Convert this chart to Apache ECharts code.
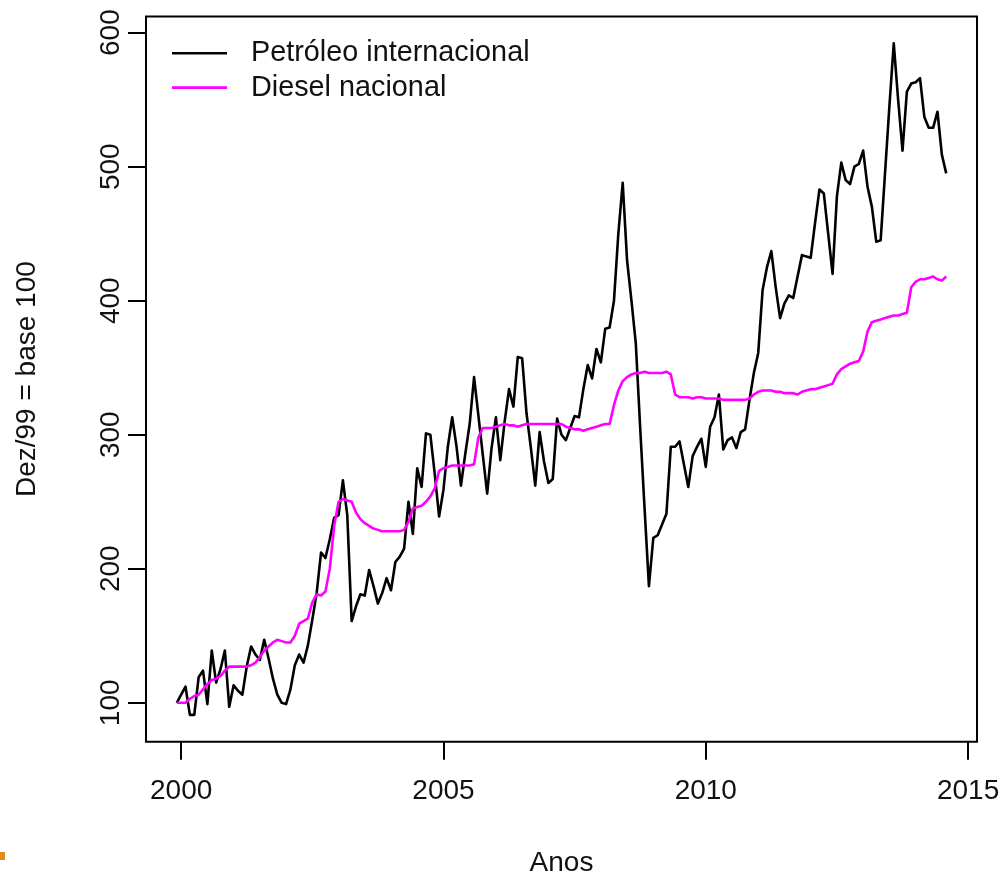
<!DOCTYPE html>
<html>
<head>
<meta charset="utf-8">
<title>Petróleo internacional x Diesel nacional</title>
<script src="https://cdn.jsdelivr.net/npm/echarts@6/dist/echarts.min.js"></script>
<style>
  html, body { margin: 0; padding: 0; background: #ffffff; }
  #chart { width: 1004px; height: 877px; }
</style>
</head>
<body>
<div id="chart"></div>
<script>
// Monthly index series, Dec/1999 = 100
const startYear = 1999;
const startMonth = 12;

const petroleoInternacional = [
  100, 106, 112, 91, 91, 119, 124, 99, 139, 115, 125, 139,
  97, 113, 109, 106, 127, 142, 136, 132, 147, 133, 118, 106,
  100, 99, 110, 128, 136, 130, 143, 162, 182, 212, 208, 222,
  238, 240, 266, 240, 161, 172, 181, 180, 199, 187, 174, 182,
  193, 184, 205, 209, 215, 250, 226, 275, 261, 301, 300, 271,
  239, 259, 291, 313, 291, 262, 286, 308, 343, 314, 285, 256,
  290, 313, 281, 310, 334, 321, 358, 357, 316, 290, 262, 302,
  280, 264, 267, 312, 300, 296, 305, 314, 313, 334, 352, 342,
  364, 354, 379, 380, 400, 450, 488, 430, 400, 368, 305, 245,
  187, 223, 225, 233, 241, 291, 291, 295, 278, 261, 284, 291,
  297, 276, 306, 313, 330, 289, 296, 298, 290, 302, 304, 326,
  346, 361, 408, 425, 437, 410, 387, 398, 404, 402, 418, 434,
  433, 432, 458, 483, 480, 450, 420, 478, 503, 490, 487, 500,
  502, 512, 485, 470, 444, 445, 495, 545, 592, 550, 512, 556,
  562, 563, 566, 537, 529, 529, 541, 509, 495
];

const dieselNacional = [
  100, 100, 100, 103, 105, 106, 110, 114, 117, 118, 120, 124,
  127, 127, 127, 127, 127, 128, 130, 134, 139, 142, 145, 147,
  146, 145, 145, 150, 159, 161, 163, 175, 181, 180, 183, 200,
  232, 250, 252, 251, 250, 242, 237, 234, 232, 230, 229, 228,
  228, 228, 228, 228, 229, 235, 245, 246, 247, 250, 254, 260,
  273, 275, 276, 277, 277, 277, 277, 277, 278, 298, 305, 305,
  305, 306, 307, 308, 307, 307, 306, 307, 308, 308, 308, 308,
  308, 308, 308, 308, 308, 306, 305, 304, 304, 303, 304, 305,
  306, 307, 308, 308, 322, 333, 340, 343, 345, 346, 346, 347,
  346, 346, 346, 346, 347, 345, 330, 328, 328, 328, 327, 328,
  328, 327, 327, 327, 327, 326, 326, 326, 326, 326, 326, 327,
  330, 332, 333, 333, 333, 332, 332, 331, 331, 331, 330, 332,
  333, 334, 334, 335, 336, 337, 338, 345, 349, 351, 353, 354,
  355, 362, 377, 384, 385, 386, 387, 388, 389, 389, 390, 391,
  410, 414, 416, 416, 417, 418, 416, 415, 418
];

const seriesNames = ['Petróleo internacional', 'Diesel nacional'];
const seriesColors = ['#000000', '#ff00ff'];
const xTicks = [2000, 2005, 2010, 2015];
const yTicks = [100, 200, 300, 400, 500, 600];
const xTitle = 'Anos';
const yTitle = 'Dez/99 = base 100';

// decimal year of the i-th month
function timeOf(i) {
  return startYear + (startMonth - 1 + i) / 12;
}

function toPairs(values) {
  return values.map(function (v, i) { return [timeOf(i), v]; });
}

// axis ranges padded by 4% of the data range on each side
function paddedRange(lo, hi) {
  const pad = (hi - lo) * 0.04;
  return [lo - pad, hi + pad];
}

const n = petroleoInternacional.length;
const xRange = paddedRange(timeOf(0), timeOf(n - 1));
const allValues = petroleoInternacional.concat(dieselNacional);
const yRange = paddedRange(Math.min.apply(null, allValues), Math.max.apply(null, allValues));

const fontFamily = '"Liberation Sans", Arial, Helvetica, sans-serif';
const textColor = '#111111';

const chart = echarts.init(document.getElementById('chart'), null, { renderer: 'canvas' });

chart.setOption({
  animation: false,
  backgroundColor: '#ffffff',
  textStyle: { fontFamily: fontFamily },
  grid: {
    left: 146,
    right: 27,
    top: 16.5,
    bottom: 135.3,
    containLabel: false,
    outerBoundsMode: 'none',
    show: true,
    borderColor: '#000000',
    borderWidth: 2,
    backgroundColor: 'transparent'
  },
  legend: {
    data: seriesNames,
    orient: 'vertical',
    left: 167,
    top: 31,
    icon: 'rect',
    itemWidth: 55,
    itemHeight: 2.6,
    itemGap: 0,
    selectedMode: false,
    textStyle: {
      fontFamily: fontFamily,
      fontSize: 28.8,
      color: textColor,
      lineHeight: 34.4,
      padding: [0, 0, 0, 19]
    }
  },
  xAxis: {
    type: 'value',
    min: xRange[0],
    max: xRange[1],
    name: xTitle,
    nameLocation: 'middle',
    nameGap: 108,
    nameTextStyle: { fontFamily: fontFamily, fontSize: 28, color: textColor },
    axisLine: { show: false, onZero: false },
    splitLine: { show: false },
    axisTick: {
      show: true,
      inside: false,
      length: 18,
      customValues: xTicks,
      lineStyle: { color: '#000000', width: 2 }
    },
    axisLabel: {
      show: true,
      customValues: xTicks,
      margin: 36,
      fontFamily: fontFamily,
      fontSize: 28,
      color: textColor,
      formatter: function (v) { return String(Math.round(v)); }
    }
  },
  yAxis: {
    type: 'value',
    min: yRange[0],
    max: yRange[1],
    name: yTitle,
    nameLocation: 'middle',
    nameGap: 105,
    nameRotate: 90,
    nameTextStyle: { fontFamily: fontFamily, fontSize: 28, color: textColor },
    axisLine: { show: false, onZero: false },
    splitLine: { show: false },
    axisTick: {
      show: true,
      inside: false,
      length: 18,
      customValues: yTicks,
      lineStyle: { color: '#000000', width: 2 }
    },
    axisLabel: {
      show: true,
      customValues: yTicks,
      rotate: 90,
      margin: 21,
      fontFamily: fontFamily,
      fontSize: 28,
      color: textColor,
      formatter: function (v) { return String(Math.round(v)); }
    }
  },
  series: [
    {
      name: seriesNames[0],
      type: 'line',
      data: toPairs(petroleoInternacional),
      symbol: 'none',
      showSymbol: false,
      color: seriesColors[0],
      lineStyle: { color: seriesColors[0], width: 2.6, join: 'round' }
    },
    {
      name: seriesNames[1],
      type: 'line',
      data: toPairs(dieselNacional),
      symbol: 'none',
      showSymbol: false,
      color: seriesColors[1],
      lineStyle: { color: seriesColors[1], width: 2.6, join: 'round' }
    }
  ],
  graphic: [
    {
      type: 'rect',
      left: 0,
      top: 852,
      shape: { width: 5, height: 8 },
      style: { fill: '#e08a1e' }
    }
  ]
});
</script>
</body>
</html>
